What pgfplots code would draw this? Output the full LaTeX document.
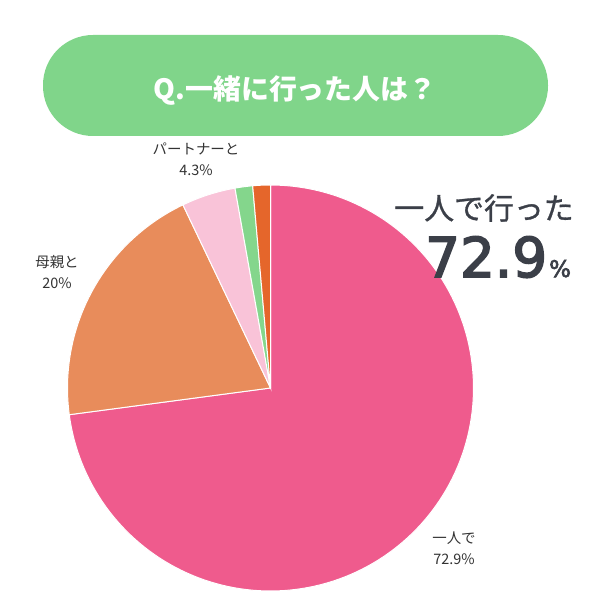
\documentclass[border=0pt]{standalone}
\usepackage{pgfplots}
\pgfplotsset{compat=1.18}
\usepackage{fontspec}
\setmainfont{Noto Sans CJK JP}
\newfontfamily\digitfont[FakeBold=3]{DejaVu Sans}
\newfontfamily\phrasefont[FakeBold=1]{Noto Sans CJK JP}
\definecolor{cpink}{HTML}{EF5B8D}
\definecolor{corange}{HTML}{E88C5B}
\definecolor{clpink}{HTML}{F9C3D8}
\definecolor{cgreen}{HTML}{84D68C}
\definecolor{cdorange}{HTML}{E5662B}
\definecolor{ctitle}{HTML}{80D58A}
\definecolor{cbig}{HTML}{3B3F48}
\definecolor{clabel}{HTML}{333333}
\begin{document}
\begin{tikzpicture}
\useasboundingbox (0,0) rectangle (600bp,600bp);
% title pill
\fill[ctitle, rounded corners=50bp] (43bp,464bp) rectangle (548bp,565bp);
\node[text=white, font=\fontsize{28}{30}\selectfont\bfseries] at (295bp,509bp) {Q.一緒に行った人は？};
\begin{axis}[at={(270.5bp,212bp)}, anchor=center, hide axis, scale only axis,
  width=406bp, height=406bp, xmin=-1, xmax=1, ymin=-1, ymax=1, clip=false]
% values: 72.9, 20, 4.3, 1.4, 1.4 (percent), clockwise from top
\addplot[fill=cpink, draw=white, line width=1pt, domain={0}:{72.9*3.6}, samples=150, variable=\t] ({sin(t)},{cos(t)}) -- (axis cs:0,0) -- cycle;
\addplot[fill=corange, draw=white, line width=1pt, domain={72.9*3.6}:{92.9*3.6}, samples=50, variable=\t] ({sin(t)},{cos(t)}) -- (axis cs:0,0) -- cycle;
\addplot[fill=clpink, draw=white, line width=1pt, domain={92.9*3.6}:{97.2*3.6}, samples=15, variable=\t] ({sin(t)},{cos(t)}) -- (axis cs:0,0) -- cycle;
\addplot[fill=cgreen, draw=white, line width=1pt, domain={97.2*3.6}:{98.6*3.6}, samples=8, variable=\t] ({sin(t)},{cos(t)}) -- (axis cs:0,0) -- cycle;
\addplot[fill=cdorange, draw=white, line width=1pt, domain={98.6*3.6}:{100*3.6}, samples=8, variable=\t] ({sin(t)},{cos(t)}) -- (axis cs:0,0) -- cycle;
\end{axis}
% slice labels
\node[text=clabel, font=\fontsize{14.5}{21}\selectfont, align=center] at (196bp,441bp) {パートナーと\\4.3\%};
\node[text=clabel, font=\fontsize{14.5}{21}\selectfont, align=center] at (57bp,328bp) {母親と\\20\%};
\node[text=clabel, font=\fontsize{14.5}{21}\selectfont, align=center] at (454bp,52bp) {一人で\\72.9\%};
% big callout
\node[text=cbig, font=\fontsize{30}{32}\phrasefont] at (484bp,392bp) {一人で行った};
\node[text=cbig, font=\fontsize{55}{58}\digitfont, anchor=base west, inner sep=0pt] at (425bp,323bp) {72.9\hspace{2bp}{\fontsize{23}{24}\selectfont\%}};
\end{tikzpicture}
\end{document}
